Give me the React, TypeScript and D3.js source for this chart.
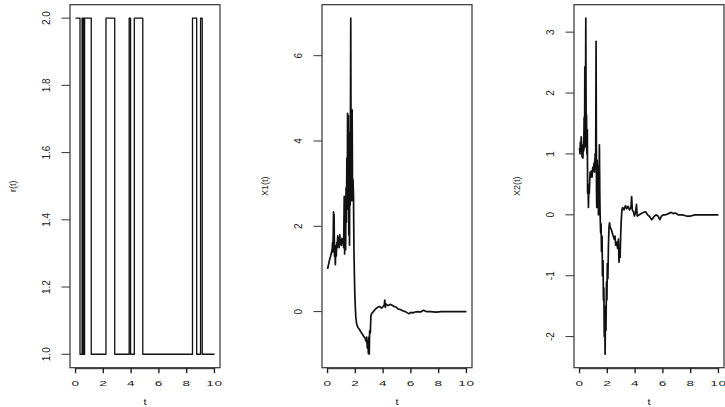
import React from 'react';
import * as d3 from 'd3';

// time axis shared by all three panels
const tTicks = [0, 2, 4, 6, 8, 10];

// r(t): switching times and the state that starts at each time (last entry closes the path)
const rTimes = [0, 0.32, 0.47, 0.52, 0.56, 0.61, 0.65, 1.13, 2.19, 2.82, 3.86, 3.96, 4.23, 4.84, 8.42, 8.72, 9.0, 9.12, 10];
const rStates = [2, 1, 2, 1, 2, 1, 2, 1, 2, 1, 2, 1, 2, 1, 2, 1, 2, 1, 1];
const rTicks = [1.0, 1.2, 1.4, 1.6, 1.8, 2.0];

// X1(t)
const x1Times = [
  0, 0.08, 0.15, 0.22, 0.28, 0.33, 0.36, 0.38, 0.41, 0.43, 0.45, 0.47, 0.5, 0.53, 0.56, 0.6, 0.63, 0.66, 0.7, 0.73,
  0.77, 0.8, 0.84, 0.88, 0.92, 0.96, 1.0, 1.04, 1.08, 1.12, 1.16, 1.2, 1.23, 1.27, 1.3, 1.33, 1.36, 1.39, 1.42, 1.44,
  1.47, 1.5, 1.53, 1.56, 1.58, 1.61, 1.63, 1.67, 1.7, 1.72, 1.75, 1.77, 1.8, 1.83, 1.87, 1.9, 1.93, 1.96, 2.0, 2.04,
  2.1, 2.2, 2.3, 2.4, 2.5, 2.6, 2.7, 2.78, 2.82, 2.86, 2.9, 2.94, 2.97, 3.0, 3.03, 3.08, 3.12, 3.18, 3.3, 3.45,
  3.6, 3.75, 3.9, 4.0, 4.08, 4.12, 4.16, 4.2, 4.35, 4.5, 4.65, 4.8, 4.95, 5.1, 5.25, 5.4, 5.6, 5.75, 5.85, 6.0,
  6.15, 6.3, 6.5, 6.7, 6.9, 7.1, 7.4, 7.8, 8.2, 8.6, 9.0, 9.5, 10
];
const x1Values = [
  1.0, 1.12, 1.22, 1.3, 1.38, 1.45, 1.62, 1.4, 1.8, 2.34, 1.6, 2.28, 1.3, 1.5, 1.1, 1.55, 1.3, 1.62, 1.5, 1.78,
  1.55, 1.72, 1.5, 1.8, 1.58, 1.68, 1.55, 1.72, 1.62, 1.7, 1.5, 2.7, 1.35, 2.2, 1.45, 2.9, 2.1, 3.6, 2.4, 4.65,
  2.8, 4.6, 1.8, 3.0, 1.56, 4.2, 2.5, 6.88, 2.8, 4.2, 2.6, 4.73, 2.7, 3.1, 2.7, 1.45, 0.9, 0.45, 0.1, -0.15,
  -0.3, -0.38, -0.42, -0.48, -0.52, -0.58, -0.62, -0.7, -0.6, -0.85, -0.7, -0.98, -0.6, -1.0, -0.45, -0.5, -0.1, -0.04, 0.0, 0.06,
  0.1, 0.12, 0.08, 0.12, 0.15, 0.27, 0.1, 0.18, 0.14, 0.17, 0.15, 0.12, 0.1, 0.06, 0.05, 0.02, 0.0, -0.03, -0.05, -0.02,
  -0.03, -0.01, 0.0, -0.01, 0.03, 0.0, 0.0, -0.01, 0.0, 0.0, 0.0, 0.0, 0.0
];
const x1Ticks = [0, 2, 4, 6];

// X2(t)
const x2Times = [
  0, 0.03, 0.06, 0.09, 0.12, 0.15, 0.18, 0.21, 0.24, 0.27, 0.3, 0.33, 0.36, 0.38, 0.4, 0.43, 0.45, 0.48, 0.5, 0.53,
  0.56, 0.58, 0.61, 0.64, 0.67, 0.7, 0.73, 0.76, 0.8, 0.85, 0.9, 0.95, 1.0, 1.04, 1.08, 1.12, 1.16, 1.19, 1.22, 1.24,
  1.27, 1.3, 1.33, 1.36, 1.4, 1.43, 1.46, 1.48, 1.52, 1.55, 1.58, 1.62, 1.65, 1.69, 1.72, 1.75, 1.78, 1.81, 1.84, 1.87,
  1.9, 1.94, 1.97, 2.0, 2.04, 2.08, 2.12, 2.16, 2.2, 2.3, 2.4, 2.5, 2.55, 2.6, 2.68, 2.74, 2.8, 2.84, 2.88, 2.92,
  2.96, 3.0, 3.05, 3.1, 3.2, 3.3, 3.4, 3.5, 3.6, 3.7, 3.75, 3.8, 3.88, 3.95, 4.02, 4.1, 4.15, 4.3, 4.45, 4.6,
  4.75, 4.9, 5.05, 5.2, 5.35, 5.5, 5.65, 5.78, 5.9, 6.05, 6.2, 6.4, 6.6, 6.75, 6.9, 7.1, 7.4, 7.7, 8.0, 8.3,
  8.8, 9.3, 10
];
const x2Values = [
  1.1, 1.0, 1.2, 1.05, 1.28, 1.15, 0.95, 1.1, 0.93, 1.15, 1.05, 1.6, 1.1, 2.43, 1.3, 2.0, 3.23, 1.12, 1.64, 1.0,
  1.4, 0.36, 0.5, 0.12, 0.45, 0.35, 0.55, 0.7, 0.62, 0.72, 0.62, 0.78, 0.72, 0.85, 0.7, 1.0, 0.75, 2.85, 0.4, 0.12,
  0.9, 0.3, 0.8, 0.0, 0.5, 1.15, 0.3, 0.0, -0.3, -0.15, -0.6, -0.35, -1.0, -0.75, -1.4, -1.2, -2.0, -1.6, -2.29, -1.5,
  -1.9, -1.1, -1.4, -0.8, -1.05, -0.5, -0.2, -0.13, -0.2, -0.25, -0.33, -0.4, -0.35, -0.5, -0.45, -0.55, -0.4, -0.78, -0.6, -0.7,
  -0.35, -0.1, 0.08, 0.12, 0.08, 0.15, 0.1, 0.14, 0.08, 0.12, 0.3, 0.08, 0.05, -0.02, 0.03, 0.17, -0.02, 0.0, 0.02, 0.04,
  0.05, 0.0, -0.03, -0.08, -0.03, 0.0, -0.02, -0.08, -0.02, 0.0, 0.0, 0.02, 0.04, 0.02, 0.03, 0.0, 0.0, -0.02, -0.02, 0.0,
  0.0, 0.0, 0.0
];
const x2Ticks = [-2, -1, 0, 1, 2, 3];

const W = 725;
const H = 407;
const PANEL_W = 252;
const margin = { left: 70, right: 32, top: 4.7, bottom: 39.3 };
const FONT = '"Liberation Sans", Arial, Helvetica, sans-serif';

// R style axis padding (4% each side)
const pad = ([lo, hi]: [number, number]) => {
  const d = (hi - lo) * 0.04;
  return [lo - d, hi + d];
};

type PanelProps = {
  offset: number;
  times: number[];
  values: number[];
  yTicks: number[];
  yFormat: (v: number) => string;
  yLabel: string;
  curve: d3.CurveFactory;
  strokeWidth: number;
};

function Panel({ offset, times, values, yTicks, yFormat, yLabel, curve, strokeWidth }: PanelProps) {
  const left = margin.left;
  const right = PANEL_W - margin.right;
  const top = margin.top;
  const bottom = H - margin.bottom;

  const x = d3.scaleLinear().domain(pad(d3.extent(times) as [number, number])).range([left, right]);
  const y = d3.scaleLinear().domain(pad(d3.extent(values) as [number, number])).range([bottom, top]);

  const pts: [number, number][] = times.map((t, i) => [t, values[i]]);
  const path = d3.line<[number, number]>()
    .x(d => x(d[0]))
    .y(d => y(d[1]))
    .curve(curve)(pts) || '';

  const midY = (top + bottom) / 2;

  return (
    <g transform={`translate(${offset},0)`} fontFamily={FONT} fill="#222">
      <path d={path} fill="none" stroke="#111" strokeWidth={strokeWidth} strokeLinejoin="round" />
      <rect x={left} y={top} width={right - left} height={bottom - top} fill="none" stroke="#333" strokeWidth={1.2} />

      {/* x axis */}
      <line x1={x(tTicks[0])} x2={x(tTicks[tTicks.length - 1])} y1={bottom + 1} y2={bottom + 1} stroke="#222" strokeWidth={1} />
      {tTicks.map(t => (
        <g key={`xt${t}`}>
          <line x1={x(t)} x2={x(t)} y1={bottom} y2={bottom + 5.5} stroke="#222" strokeWidth={1.4} />
          <text transform={`translate(${x(t)},385.6) scale(1.7,1)`} textAnchor="middle" fontSize={8} letterSpacing={0.4}>
            {t}
          </text>
        </g>
      ))}
      <text transform={`translate(${(left + right) / 2},404.5) scale(1.3,1)`} textAnchor="middle" fontSize={8.5}>t</text>

      {/* y axis */}
      {yTicks.map(v => (
        <g key={`yt${v}`}>
          <line x1={left - 8.5} x2={left} y1={y(v)} y2={y(v)} stroke="#333" strokeWidth={1} />
          <text transform={`translate(${left - 24},${y(v)}) rotate(-90)`} textAnchor="middle" dy="0.36em" fontSize={10}>
            {yFormat(v)}
          </text>
        </g>
      ))}
      <text transform={`translate(13,${midY}) rotate(-90)`} textAnchor="middle" dy="0.36em" fontSize={9}>
        {yLabel}
      </text>
    </g>
  );
}

export default function App() {
  return (
    <svg width={W} height={H} style={{ position: 'absolute', left: 0, top: 0, background: '#fff' }}>
      <Panel
        offset={0}
        times={rTimes}
        values={rStates}
        yTicks={rTicks}
        yFormat={v => v.toFixed(1)}
        yLabel="r(t)"
        curve={d3.curveStepAfter}
        strokeWidth={1.3}
      />
      <Panel
        offset={PANEL_W}
        times={x1Times}
        values={x1Values}
        yTicks={x1Ticks}
        yFormat={v => String(v)}
        yLabel="X1(t)"
        curve={d3.curveLinear}
        strokeWidth={1.7}
      />
      <Panel
        offset={PANEL_W * 2}
        times={x2Times}
        values={x2Values}
        yTicks={x2Ticks}
        yFormat={v => String(v)}
        yLabel="X2(t)"
        curve={d3.curveLinear}
        strokeWidth={1.7}
      />
    </svg>
  );
}
